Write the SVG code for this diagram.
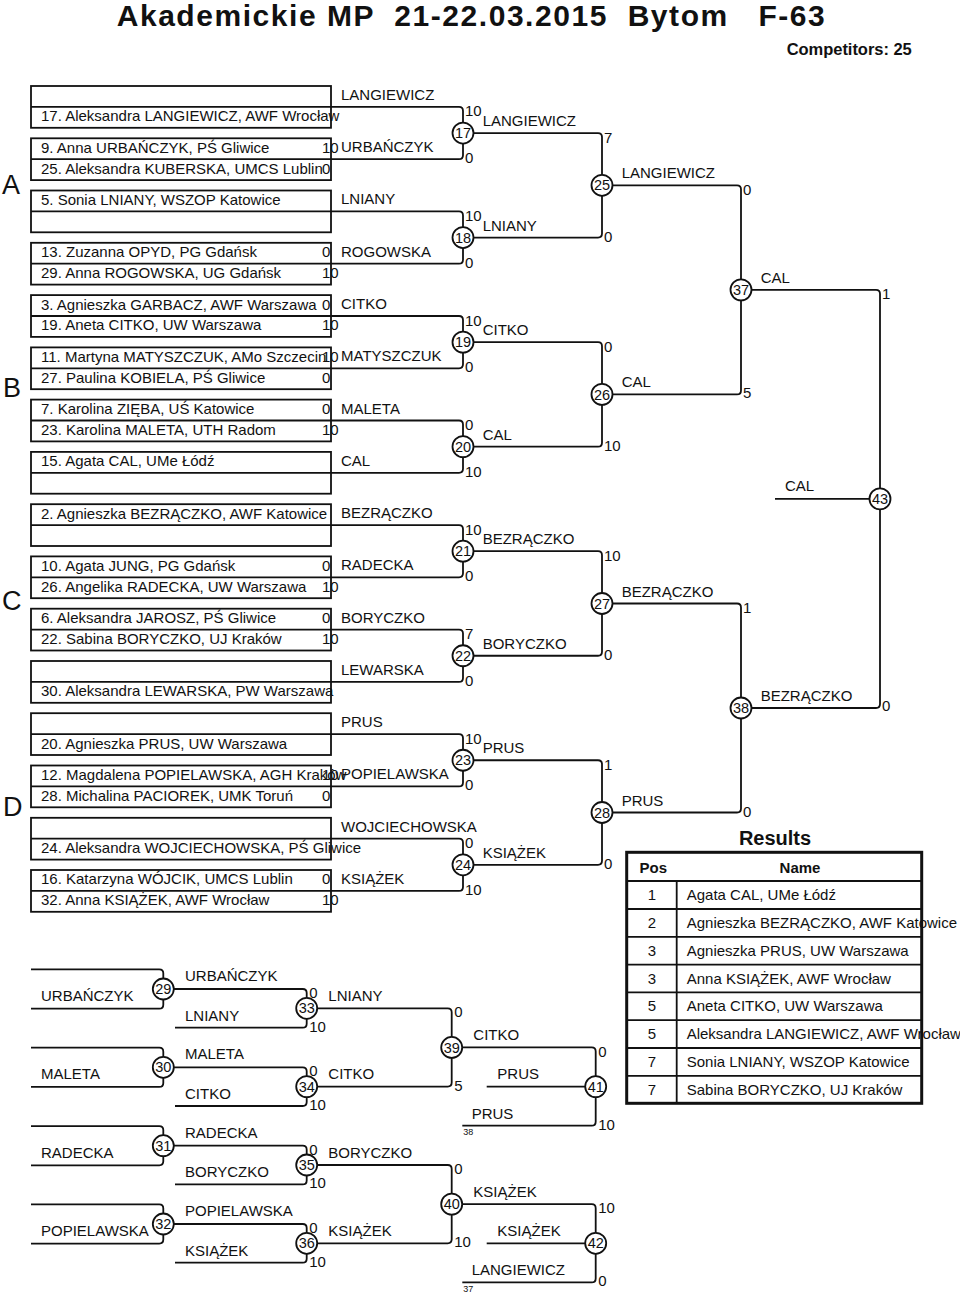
<svg xmlns="http://www.w3.org/2000/svg" width="960" height="1293" viewBox="0 0 960 1293">
<style>
text{font-family:"Liberation Sans",Arial,Helvetica,sans-serif;font-size:15px;fill:#111}
.b{font-weight:bold}
.n{font-size:14.5px;text-anchor:middle}
.s{font-size:9px}
.L{font-size:27px}
.ttl{font-size:30px}
.cmp{font-size:16.5px}
.res{font-size:20px}
.ln{fill:none;stroke:#111;stroke-width:1.8}
.bx{fill:none;stroke:#111;stroke-width:1.8}
.c{fill:#fff;stroke:#111;stroke-width:1.8}
.m{text-anchor:middle}
</style>
<rect width="960" height="1293" fill="#fff"/>
<text class="b ttl" x="116.7" y="26" textLength="708" lengthAdjust="spacing" xml:space="preserve">Akademickie MP  21-22.03.2015  Bytom   F-63</text>
<text class="b cmp" x="786.7" y="55" textLength="125" lengthAdjust="spacing">Competitors: 25</text>
<text class="L" x="2" y="194">A</text>
<text class="L" x="3" y="397">B</text>
<text class="L" x="2" y="610">C</text>
<text class="L" x="3" y="816">D</text>

<g id="connectors">
<path class="ln" d="M331,106.9 H459 Q463,106.9 463,110.9 V122.55 M331,159.2 H459 Q463,159.2 463,155.2 V143.55"/>
<path class="ln" d="M331,211.4 H459 Q463,211.4 463,215.4 V227.05 M331,263.7 H459 Q463,263.7 463,259.7 V248.05"/>
<path class="ln" d="M331,316 H459 Q463,316 463,320 V331.65 M331,368.3 H459 Q463,368.3 463,364.3 V352.65"/>
<path class="ln" d="M331,420.5 H459 Q463,420.5 463,424.5 V436.15 M331,472.8 H459 Q463,472.8 463,468.8 V457.15"/>
<path class="ln" d="M331,525.1 H459 Q463,525.1 463,529.1 V540.7 M331,577.3 H459 Q463,577.3 463,573.3 V561.7"/>
<path class="ln" d="M331,629.6 H459 Q463,629.6 463,633.6 V645.25 M331,681.9 H459 Q463,681.9 463,677.9 V666.25"/>
<path class="ln" d="M331,734.1 H459 Q463,734.1 463,738.1 V749.75 M331,786.4 H459 Q463,786.4 463,782.4 V770.75"/>
<path class="ln" d="M331,838.7 H459 Q463,838.7 463,842.7 V854.3 M331,890.9 H459 Q463,890.9 463,886.9 V875.3"/>
<path class="ln" d="M473.5,133.05 H598 Q602,133.05 602,137.05 V174.8 M473.5,237.55 H598 Q602,237.55 602,233.55 V195.8"/>
<path class="ln" d="M473.5,342.15 H598 Q602,342.15 602,346.15 V383.9 M473.5,446.65 H598 Q602,446.65 602,442.65 V404.9"/>
<path class="ln" d="M473.5,551.2 H598 Q602,551.2 602,555.2 V593 M473.5,655.75 H598 Q602,655.75 602,651.75 V614"/>
<path class="ln" d="M473.5,760.25 H598 Q602,760.25 602,764.25 V802 M473.5,864.8 H598 Q602,864.8 602,860.8 V823"/>
<path class="ln" d="M612.5,185.3 H737 Q741,185.3 741,189.3 V279.35 M612.5,394.4 H737 Q741,394.4 741,390.4 V300.35"/>
<path class="ln" d="M612.5,603.5 H737 Q741,603.5 741,607.5 V697.5 M612.5,812.5 H737 Q741,812.5 741,808.5 V718.5"/>
<path class="ln" d="M751.5,289.85 H876 Q880,289.85 880,293.85 V488.4 M751.5,708 H876 Q880,708 880,704 V509.4 M775,498.9 H869.5"/>

<path class="ln" d="M31,969.3 H159.3 Q163.3,969.3 163.3,973.3 V978.5 M31,1008.7 H159.3 Q163.3,1008.7 163.3,1004.7 V999.5"/>
<path class="ln" d="M31,1047.7 H159.3 Q163.3,1047.7 163.3,1051.7 V1056.8 M31,1086.9 H159.3 Q163.3,1086.9 163.3,1082.9 V1077.8"/>
<path class="ln" d="M31,1126.1 H159.3 Q163.3,1126.1 163.3,1130.1 V1135.2 M31,1165.3 H159.3 Q163.3,1165.3 163.3,1161.3 V1156.2"/>
<path class="ln" d="M31,1204.4 H159.3 Q163.3,1204.4 163.3,1208.4 V1213.5 M31,1243.6 H159.3 Q163.3,1243.6 163.3,1239.6 V1234.5"/>
<path class="ln" d="M173.8,989 H302.7 Q306.7,989 306.7,993 V997.8 M175,1027.7 H302.7 Q306.7,1027.7 306.7,1023.7 V1018.8"/>
<path class="ln" d="M173.8,1067.3 H302.7 Q306.7,1067.3 306.7,1071.3 V1076.1 M175,1106 H302.7 Q306.7,1106 306.7,1102 V1097.1"/>
<path class="ln" d="M173.8,1145.7 H302.7 Q306.7,1145.7 306.7,1149.7 V1154.5 M175,1184.4 H302.7 Q306.7,1184.4 306.7,1180.4 V1175.5"/>
<path class="ln" d="M173.8,1224 H302.7 Q306.7,1224 306.7,1228 V1232.8 M175,1262.7 H302.7 Q306.7,1262.7 306.7,1258.7 V1253.8"/>
<path class="ln" d="M317.2,1008.3 H447.7 Q451.7,1008.3 451.7,1012.3 V1036.95 M317.2,1086.6 H447.7 Q451.7,1086.6 451.7,1082.6 V1057.95"/>
<path class="ln" d="M317.2,1165 H447.7 Q451.7,1165 451.7,1169 V1193.65 M317.2,1243.3 H447.7 Q451.7,1243.3 451.7,1239.3 V1214.65"/>
<path class="ln" d="M462.2,1047.45 H591.7 Q595.7,1047.45 595.7,1051.45 V1076.1 M486.7,1086.6 H585.2 M462.3,1125.7 H591.7 Q595.7,1125.7 595.7,1121.7 V1097.1"/>
<path class="ln" d="M462.2,1204.15 H591.7 Q595.7,1204.15 595.7,1208.15 V1232.8 M486.7,1243.3 H585.2 M462.3,1282.4 H591.7 Q595.7,1282.4 595.7,1278.4 V1253.8"/>
</g>

<g id="entry1"><rect class="bx" x="31" y="86" width="300" height="41.8"/><line class="ln" x1="31" y1="106.9" x2="331" y2="106.9"/><text x="41" y="121.3">17. Aleksandra LANGIEWICZ, AWF Wrocław</text><text x="341" y="99.9">LANGIEWICZ</text></g>
<g id="entry2"><rect class="bx" x="31" y="138.3" width="300" height="41.8"/><line class="ln" x1="31" y1="159.2" x2="331" y2="159.2"/><text x="41" y="152.7">9. Anna URBAŃCZYK, PŚ Gliwice</text><text x="322" y="152.7">10</text><text x="41" y="173.6">25. Aleksandra KUBERSKA, UMCS Lublin</text><text x="322" y="173.6">0</text><text x="341" y="152.2">URBAŃCZYK</text></g>
<g id="entry3"><rect class="bx" x="31" y="190.5" width="300" height="41.8"/><line class="ln" x1="31" y1="211.4" x2="331" y2="211.4"/><text x="41" y="204.9">5. Sonia LNIANY, WSZOP Katowice</text><text x="341" y="204.4">LNIANY</text></g>
<g id="entry4"><rect class="bx" x="31" y="242.8" width="300" height="41.8"/><line class="ln" x1="31" y1="263.7" x2="331" y2="263.7"/><text x="41" y="257.2">13. Zuzanna OPYD, PG Gdańsk</text><text x="322" y="257.2">0</text><text x="41" y="278.1">29. Anna ROGOWSKA, UG Gdańsk</text><text x="322" y="278.1">10</text><text x="341" y="256.7">ROGOWSKA</text></g>
<g id="entry5"><rect class="bx" x="31" y="295.1" width="300" height="41.8"/><line class="ln" x1="31" y1="316" x2="331" y2="316"/><text x="41" y="309.5">3. Agnieszka GARBACZ, AWF Warszawa</text><text x="322" y="309.5">0</text><text x="41" y="330.4">19. Aneta CITKO, UW Warszawa</text><text x="322" y="330.4">10</text><text x="341" y="309">CITKO</text></g>
<g id="entry6"><rect class="bx" x="31" y="347.4" width="300" height="41.8"/><line class="ln" x1="31" y1="368.3" x2="331" y2="368.3"/><text x="41" y="361.8">11. Martyna MATYSZCZUK, AMo Szczecin</text><text x="322" y="361.8">10</text><text x="41" y="382.7">27. Paulina KOBIELA, PŚ Gliwice</text><text x="322" y="382.7">0</text><text x="341" y="361.3">MATYSZCZUK</text></g>
<g id="entry7"><rect class="bx" x="31" y="399.6" width="300" height="41.8"/><line class="ln" x1="31" y1="420.5" x2="331" y2="420.5"/><text x="41" y="414">7. Karolina ZIĘBA, UŚ Katowice</text><text x="322" y="414">0</text><text x="41" y="434.9">23. Karolina MALETA, UTH Radom</text><text x="322" y="434.9">10</text><text x="341" y="413.5">MALETA</text></g>
<g id="entry8"><rect class="bx" x="31" y="451.9" width="300" height="41.8"/><line class="ln" x1="31" y1="472.8" x2="331" y2="472.8"/><text x="41" y="466.3">15. Agata CAL, UMe Łódź</text><text x="341" y="465.8">CAL</text></g>
<g id="entry9"><rect class="bx" x="31" y="504.2" width="300" height="41.8"/><line class="ln" x1="31" y1="525.1" x2="331" y2="525.1"/><text x="41" y="518.6">2. Agnieszka BEZRĄCZKO, AWF Katowice</text><text x="341" y="518.1">BEZRĄCZKO</text></g>
<g id="entry10"><rect class="bx" x="31" y="556.4" width="300" height="41.8"/><line class="ln" x1="31" y1="577.3" x2="331" y2="577.3"/><text x="41" y="570.8">10. Agata JUNG, PG Gdańsk</text><text x="322" y="570.8">0</text><text x="41" y="591.7">26. Angelika RADECKA, UW Warszawa</text><text x="322" y="591.7">10</text><text x="341" y="570.3">RADECKA</text></g>
<g id="entry11"><rect class="bx" x="31" y="608.7" width="300" height="41.8"/><line class="ln" x1="31" y1="629.6" x2="331" y2="629.6"/><text x="41" y="623.1">6. Aleksandra JAROSZ, PŚ Gliwice</text><text x="322" y="623.1">0</text><text x="41" y="644">22. Sabina BORYCZKO, UJ Kraków</text><text x="322" y="644">10</text><text x="341" y="622.6">BORYCZKO</text></g>
<g id="entry12"><rect class="bx" x="31" y="661" width="300" height="41.8"/><line class="ln" x1="31" y1="681.9" x2="331" y2="681.9"/><text x="41" y="696.3">30. Aleksandra LEWARSKA, PW Warszawa</text><text x="341" y="674.9">LEWARSKA</text></g>
<g id="entry13"><rect class="bx" x="31" y="713.2" width="300" height="41.8"/><line class="ln" x1="31" y1="734.1" x2="331" y2="734.1"/><text x="41" y="748.5">20. Agnieszka PRUS, UW Warszawa</text><text x="341" y="727.1">PRUS</text></g>
<g id="entry14"><rect class="bx" x="31" y="765.5" width="300" height="41.8"/><line class="ln" x1="31" y1="786.4" x2="331" y2="786.4"/><text x="41" y="779.9">12. Magdalena POPIELAWSKA, AGH Kraków</text><text x="322" y="779.9">10</text><text x="41" y="800.8">28. Michalina PACIOREK, UMK Toruń</text><text x="322" y="800.8">0</text><text x="341" y="779.4">POPIELAWSKA</text></g>
<g id="entry15"><rect class="bx" x="31" y="817.8" width="300" height="41.8"/><line class="ln" x1="31" y1="838.7" x2="331" y2="838.7"/><text x="41" y="853.1">24. Aleksandra WOJCIECHOWSKA, PŚ Gliwice</text><text x="341" y="831.7">WOJCIECHOWSKA</text></g>
<g id="entry16"><rect class="bx" x="31" y="870" width="300" height="41.8"/><line class="ln" x1="31" y1="890.9" x2="331" y2="890.9"/><text x="41" y="884.4">16. Katarzyna WÓJCIK, UMCS Lublin</text><text x="322" y="884.4">0</text><text x="41" y="905.3">32. Anna KSIĄŻEK, AWF Wrocław</text><text x="322" y="905.3">10</text><text x="341" y="883.9">KSIĄŻEK</text></g>

<g id="m17"><circle class="c" cx="463" cy="133.05" r="10.5"/><text class="n" x="463" y="138.2">17</text><text x="465" y="116.4">10</text><text x="465" y="163.2">0</text><text x="482.7" y="126">LANGIEWICZ</text></g>
<g id="m18"><circle class="c" cx="463" cy="237.55" r="10.5"/><text class="n" x="463" y="242.7">18</text><text x="465" y="220.9">10</text><text x="465" y="267.7">0</text><text x="482.7" y="230.5">LNIANY</text></g>
<g id="m19"><circle class="c" cx="463" cy="342.15" r="10.5"/><text class="n" x="463" y="347.3">19</text><text x="465" y="325.5">10</text><text x="465" y="372.3">0</text><text x="482.7" y="335.1">CITKO</text></g>
<g id="m20"><circle class="c" cx="463" cy="446.65" r="10.5"/><text class="n" x="463" y="451.8">20</text><text x="465" y="430">0</text><text x="465" y="476.8">10</text><text x="482.7" y="439.6">CAL</text></g>
<g id="m21"><circle class="c" cx="463" cy="551.2" r="10.5"/><text class="n" x="463" y="556.3">21</text><text x="465" y="534.6">10</text><text x="465" y="581.3">0</text><text x="482.7" y="544.2">BEZRĄCZKO</text></g>
<g id="m22"><circle class="c" cx="463" cy="655.75" r="10.5"/><text class="n" x="463" y="660.9">22</text><text x="465" y="639.1">7</text><text x="465" y="685.9">0</text><text x="482.7" y="648.7">BORYCZKO</text></g>
<g id="m23"><circle class="c" cx="463" cy="760.25" r="10.5"/><text class="n" x="463" y="765.4">23</text><text x="465" y="743.6">10</text><text x="465" y="790.4">0</text><text x="482.7" y="753.2">PRUS</text></g>
<g id="m24"><circle class="c" cx="463" cy="864.8" r="10.5"/><text class="n" x="463" y="869.9">24</text><text x="465" y="848.2">0</text><text x="465" y="894.9">10</text><text x="482.7" y="857.8">KSIĄŻEK</text></g>
<g id="m25"><circle class="c" cx="602" cy="185.3" r="10.5"/><text class="n" x="602" y="190.4">25</text><text x="604" y="142.5">7</text><text x="604" y="241.5">0</text><text x="621.7" y="178.3">LANGIEWICZ</text></g>
<g id="m26"><circle class="c" cx="602" cy="394.4" r="10.5"/><text class="n" x="602" y="399.5">26</text><text x="604" y="351.6">0</text><text x="604" y="450.6">10</text><text x="621.7" y="387.4">CAL</text></g>
<g id="m27"><circle class="c" cx="602" cy="603.5" r="10.5"/><text class="n" x="602" y="608.6">27</text><text x="604" y="560.7">10</text><text x="604" y="659.7">0</text><text x="621.7" y="596.5">BEZRĄCZKO</text></g>
<g id="m28"><circle class="c" cx="602" cy="812.5" r="10.5"/><text class="n" x="602" y="817.6">28</text><text x="604" y="769.7">1</text><text x="604" y="868.8">0</text><text x="621.7" y="805.5">PRUS</text></g>
<g id="m37"><circle class="c" cx="741" cy="289.85" r="10.5"/><text class="n" x="741" y="295">37</text><text x="743" y="195.3">0</text><text x="743" y="398.4">5</text><text x="760.7" y="282.8">CAL</text></g>
<g id="m38"><circle class="c" cx="741" cy="708" r="10.5"/><text class="n" x="741" y="713.1">38</text><text x="743" y="613">1</text><text x="743" y="816.5">0</text><text x="760.7" y="701">BEZRĄCZKO</text></g>
<g id="m43"><circle class="c" cx="880" cy="498.9" r="10.5"/><text class="n" x="880" y="504">43</text><text x="882" y="299.3">1</text><text x="882" y="711">0</text><text x="785" y="491">CAL</text></g>

<g id="rep-in"><text x="41" y="1000.7">URBAŃCZYK</text><text x="41" y="1079.3">MALETA</text><text x="41" y="1157.7">RADECKA</text><text x="41" y="1236">POPIELAWSKA</text></g>
<g id="m29"><circle class="c" cx="163.3" cy="989" r="10.5"/><text class="n" x="163.3" y="994.1">29</text><text x="185" y="981">URBAŃCZYK</text></g>
<g id="m30"><circle class="c" cx="163.3" cy="1067.3" r="10.5"/><text class="n" x="163.3" y="1072.4">30</text><text x="185" y="1059.3">MALETA</text></g>
<g id="m31"><circle class="c" cx="163.3" cy="1145.7" r="10.5"/><text class="n" x="163.3" y="1150.8">31</text><text x="185" y="1137.7">RADECKA</text></g>
<g id="m32"><circle class="c" cx="163.3" cy="1224" r="10.5"/><text class="n" x="163.3" y="1229.1">32</text><text x="185" y="1216">POPIELAWSKA</text></g>
<g id="m33"><circle class="c" cx="306.7" cy="1008.3" r="10.5"/><text class="n" x="306.7" y="1013.4">33</text><text x="185" y="1020.7">LNIANY</text><text x="309.2" y="998">0</text><text x="309.2" y="1031.7">10</text><text x="328.3" y="1001">LNIANY</text></g>
<g id="m34"><circle class="c" cx="306.7" cy="1086.6" r="10.5"/><text class="n" x="306.7" y="1091.7">34</text><text x="185" y="1099">CITKO</text><text x="309.2" y="1076.3">0</text><text x="309.2" y="1110">10</text><text x="328.3" y="1079.3">CITKO</text></g>
<g id="m35"><circle class="c" cx="306.7" cy="1165" r="10.5"/><text class="n" x="306.7" y="1170.1">35</text><text x="185" y="1177.4">BORYCZKO</text><text x="309.2" y="1154.7">0</text><text x="309.2" y="1188.4">10</text><text x="328.3" y="1157.7">BORYCZKO</text></g>
<g id="m36"><circle class="c" cx="306.7" cy="1243.3" r="10.5"/><text class="n" x="306.7" y="1248.4">36</text><text x="185" y="1255.7">KSIĄŻEK</text><text x="309.2" y="1233">0</text><text x="309.2" y="1266.7">10</text><text x="328.3" y="1236">KSIĄŻEK</text></g>
<g id="m39"><circle class="c" cx="451.7" cy="1047.45" r="10.5"/><text class="n" x="451.7" y="1052.6">39</text><text x="454.2" y="1017.3">0</text><text x="454.2" y="1090.6">5</text><text x="473.3" y="1040">CITKO</text></g>
<g id="m40"><circle class="c" cx="451.7" cy="1204.15" r="10.5"/><text class="n" x="451.7" y="1209.3">40</text><text x="454.2" y="1174">0</text><text x="454.2" y="1247.3">10</text><text x="473.3" y="1196.7">KSIĄŻEK</text></g>
<g id="m41"><circle class="c" cx="595.7" cy="1086.6" r="10.5"/><text class="n" x="595.7" y="1091.7">41</text><text x="598.2" y="1056.5">0</text><text x="598.2" y="1129.7">10</text><text x="497.3" y="1079.3">PRUS</text><text x="471.7" y="1118.5">PRUS</text><text class="s" x="463.3" y="1135">38</text></g>
<g id="m42"><circle class="c" cx="595.7" cy="1243.3" r="10.5"/><text class="n" x="595.7" y="1248.4">42</text><text x="598.2" y="1213.2">10</text><text x="598.2" y="1286.4">0</text><text x="497.3" y="1236">KSIĄŻEK</text><text x="471.7" y="1275">LANGIEWICZ</text><text class="s" x="463.3" y="1292">37</text></g>

<g id="results">
<text class="b m res" x="775" y="845">Results</text>
<rect x="626.7" y="852.3" width="295" height="251" fill="none" stroke="#111" stroke-width="3"/>
<path class="ln" d="M626.7,881 H921.7 M626.7,909 H921.7 M626.7,936.8 H921.7 M626.7,964.6 H921.7 M626.7,992.4 H921.7 M626.7,1020.2 H921.7 M626.7,1048 H921.7 M626.7,1075.8 H921.7 M676.7,881 V1103.3"/>
<text class="b m" x="653.3" y="873">Pos</text><text class="b m" x="800" y="873">Name</text>
<text class="m" x="652" y="900">1</text><text x="686.7" y="900">Agata CAL, UMe Łódź</text>
<text class="m" x="652" y="928">2</text><text x="686.7" y="928">Agnieszka BEZRĄCZKO, AWF Katowice</text>
<text class="m" x="652" y="955.8">3</text><text x="686.7" y="955.8">Agnieszka PRUS, UW Warszawa</text>
<text class="m" x="652" y="983.6">3</text><text x="686.7" y="983.6">Anna KSIĄŻEK, AWF Wrocław</text>
<text class="m" x="652" y="1011.4">5</text><text x="686.7" y="1011.4">Aneta CITKO, UW Warszawa</text>
<text class="m" x="652" y="1039.2">5</text><text x="686.7" y="1039.2">Aleksandra LANGIEWICZ, AWF Wrocław</text>
<text class="m" x="652" y="1067">7</text><text x="686.7" y="1067">Sonia LNIANY, WSZOP Katowice</text>
<text class="m" x="652" y="1094.8">7</text><text x="686.7" y="1094.8">Sabina BORYCZKO, UJ Kraków</text>
</g>
</svg>
